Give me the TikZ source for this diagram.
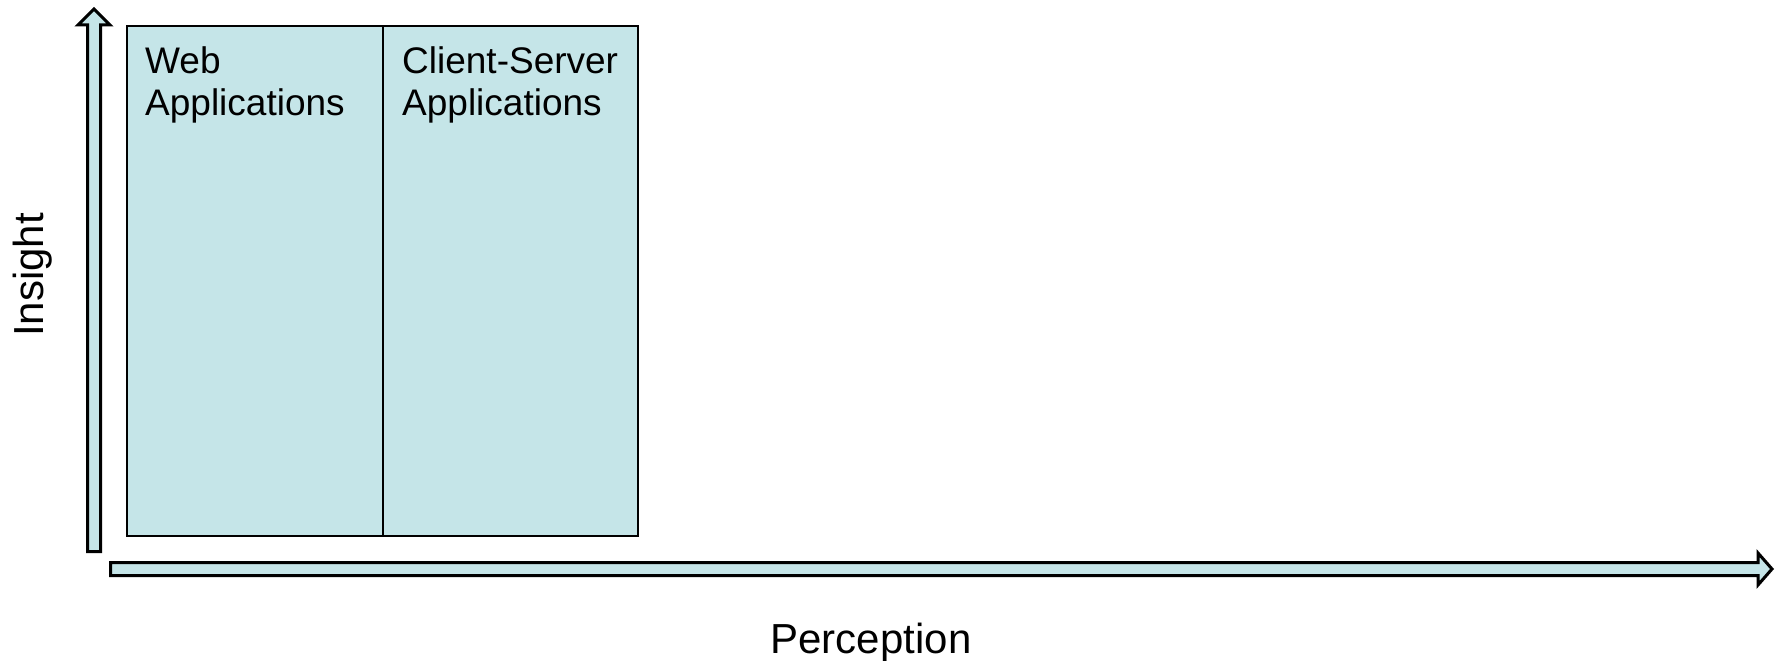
\documentclass[tikz,border=0pt]{standalone}
\usepackage{fontspec}
\setmainfont{Liberation Sans}
\definecolor{panelfill}{RGB}{197,229,232}
\begin{document}
\begin{tikzpicture}[x=1pt,y=-1pt,
  panel/.style={draw=black,line width=2pt,fill=panelfill},
  axisarrow/.style={draw=black,line width=3pt,fill=panelfill,line join=miter},
  paneltext/.style={anchor=base west,inner sep=0pt,font=\fontsize{37}{41}\selectfont},
  axislabel/.style={anchor=base,inner sep=0pt,font=\fontsize{42}{48}\selectfont}]
\useasboundingbox (0,0) rectangle (1781,661);

% vertical axis arrow (Insight)
\draw[axisarrow] (87.5,551.5) -- (87.5,25) -- (78,25) -- (94,9) -- (110,25)
  -- (100.5,25) -- (100.5,551.5) -- cycle;
% horizontal axis arrow (Perception)
\draw[axisarrow] (110.5,562.5) -- (1758,562.5) -- (1758,553) -- (1772,569)
  -- (1758,585) -- (1758,575.5) -- (110.5,575.5) -- cycle;

% the two application panels
\node[panel,minimum width=256pt,minimum height=510pt,inner sep=0pt,anchor=north west]
  (web) at (126,25) {};
\node[panel,minimum width=255pt,minimum height=510pt,inner sep=0pt,anchor=north west]
  (cs) at (382,25) {};

\node[paneltext] (webA) at (145,73.5) {Web};
\node[paneltext] (webB) at (145,115.5) {Applications};
\node[paneltext] (csA) at (402,73.5) {Client-Server};
\node[paneltext] (csB) at (402,115.5) {Applications};

% axis labels
\node[axislabel,rotate=90] (insight) at (43,275) {Insight};
\node[axislabel] (perception) at (871,653) {Perception};
\end{tikzpicture}
\end{document}
